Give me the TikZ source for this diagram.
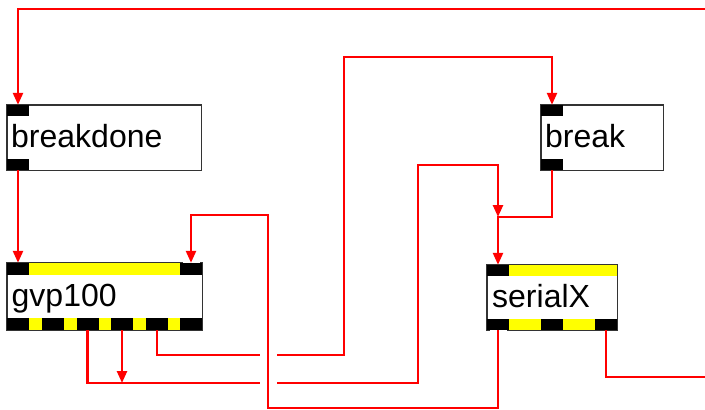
\documentclass[tikz,border=0pt]{standalone}
\usepackage{fontspec}
\setmainfont{Liberation Sans}
\usetikzlibrary{arrows.meta}
\definecolor{cordred}{RGB}{255,0,0}
\definecolor{baryellow}{RGB}{255,255,0}
\begin{document}
\begin{tikzpicture}[x=1pt,y=-1pt,
  box/.style={draw=black!80,line width=1pt,fill=white,inner sep=0,rectangle},
  port/.style={fill=black,inner sep=0,minimum width=22pt,minimum height=11pt,rectangle},
  label/.style={anchor=base west,inner sep=0,font=\fontsize{32}{36}\selectfont},
  cord/.style={draw=cordred,line width=2.4pt},
  arr/.style={cord,-{Triangle[width=10pt,length=12pt]}},
  halo/.style={preaction={draw=white,line width=17pt,-}}]
\useasboundingbox (0,0) rectangle (705,410);
% boxes
\node[box,minimum width=194pt,minimum height=65pt] (bd) at (104,137.5) {};
\node[box,minimum width=195pt,minimum height=67pt] (gvp) at (104.5,296.5) {};
\node[box,minimum width=122pt,minimum height=65pt] (brk) at (602,137.5) {};
\node[box,minimum width=130pt,minimum height=65pt] (ser) at (552,297.5) {};
% yellow bars
\fill[baryellow] (29,263) rectangle (180,275);
\fill[baryellow] (29,318) rectangle (180,330);
\fill[baryellow] (509,265) rectangle (617,276);
\fill[baryellow] (509,319) rectangle (617,330);
% ports
\node[port,minimum height=11pt] (bdin) at (18,110.5) {};
\node[port] (bdout) at (18,164.5) {};
\node[port,minimum height=12pt] (gin0) at (18,269) {};
\node[port,minimum height=12pt] (gin1) at (191,269) {};
\node[port,minimum height=12pt] (gout0) at (18,324) {};
\node[port,minimum height=12pt] (gout1) at (52.5,324) {};
\node[port,minimum height=12pt] (gout2) at (87.5,324) {};
\node[port,minimum height=12pt] (gout3) at (122,324) {};
\node[port,minimum height=12pt] (gout4) at (157,324) {};
\node[port,minimum height=12pt] (gout5) at (191,324) {};
\node[port] (bkin) at (552,110.5) {};
\node[port] (bkout) at (552,164.5) {};
\node[port] (sin) at (498,270.5) {};
\node[port] (sout0) at (498,324.5) {};
\node[port] (sout1) at (552,324.5) {};
\node[port] (sout2) at (606,324.5) {};
\draw[draw=black!80,line width=1pt] (bd.north west) rectangle (bd.south east);
\draw[draw=black!80,line width=1pt] (gvp.north west) rectangle (gvp.south east);
\draw[draw=black!80,line width=1pt] (brk.north west) rectangle (brk.south east);
\draw[draw=black!80,line width=1pt] (ser.north west) rectangle (ser.south east);
% labels
\node[label] (tbd) at (11,147) {breakdone};
\node[label] (tgvp) at (11.5,306) {gvp100};
\node[label] (tbk) at (545,147) {break};
\node[label] (tser) at (492,307) {serialX};
% free ends
\coordinate (e1) at (705,9);
\coordinate (e2) at (705,377);
\coordinate (j) at (498,217);
\coordinate (k) at (122,383);
% connectors
\draw[arr] (e1) -| (bdin.north);
\draw[arr] (bdout.south) -- (gin0.north);
\draw[arr] (gout4.south) |- (344,355) |- (552,57) -- (bkin.north);
\draw[arr] (gout2.south) |- (418,383) |- (498,165) -- (j);
\draw[arr] (gout3.south) -- (k);
\draw[arr] (bkout.south) |- (j) -- (sin.north);
\draw[cord] (sout2.south) |- (e2);
\draw[arr,halo] (sout0.south) |- (268,408) |- (191,215) -- (gin1.north);
\end{tikzpicture}
\end{document}
